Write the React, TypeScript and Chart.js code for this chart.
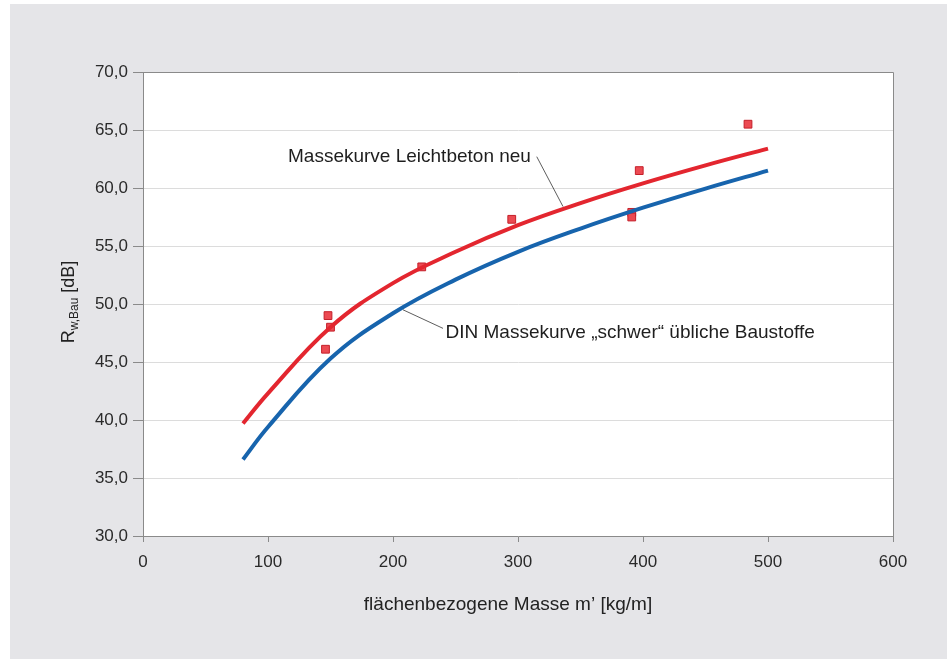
import React, { useEffect, useRef } from "react";
import { Chart, registerables } from "chart.js";

Chart.register(...registerables);

// Curve support points
const curveMass = [80, 100, 150, 200, 250, 300, 350, 400, 450, 500];
const leichtbetonCurve = [39.7, 42.3, 48.0, 51.8, 54.5, 56.8, 58.7, 60.4, 61.95, 63.4];
const dinCurve = [36.6, 39.4, 45.3, 49.2, 52.1, 54.5, 56.5, 58.3, 59.95, 61.5];

// Measured values (red squares)
const measuredMass = [148, 150, 146, 223, 295, 391, 391, 397, 484];
const measuredR = [49.0, 48.0, 46.1, 53.2, 57.3, 57.9, 57.5, 61.5, 65.5];

const xTitle = "flächenbezogene Masse m’ [kg/m]";
const labelLeicht = "Massekurve Leichtbeton neu";
const labelDin = "DIN Massekurve „schwer“ übliche Baustoffe";

const FONT = "'Liberation Sans', Arial, sans-serif";
const RED = "#e3262f";
const BLUE = "#1764ad";

const toPts = (xs: number[], ys: number[]) => xs.map((x, i) => ({ x, y: ys[i] }));

const decorPlugin = {
  id: "decor",
  beforeDraw(chart: any) {
    const { ctx, chartArea: a, width, height } = chart;
    ctx.save();
    ctx.fillStyle = "#ffffff";
    ctx.fillRect(0, 0, width, height);
    ctx.fillStyle = "#e5e5e8";
    ctx.fillRect(10, 4, width - 12, height - 4);
    ctx.fillStyle = "#ffffff";
    ctx.fillRect(a.left, a.top, a.right - a.left, a.bottom - a.top);
    ctx.restore();
  },
  afterDraw(chart: any) {
    const { ctx, chartArea: a, scales } = chart;
    const xs = scales.x;
    const ys = scales.y;
    ctx.save();
    // top and right border
    ctx.strokeStyle = "#8a8a8a";
    ctx.lineWidth = 1;
    ctx.beginPath();
    ctx.moveTo(a.left, a.top + 0.5);
    ctx.lineTo(a.right + 0.5, a.top + 0.5);
    ctx.lineTo(a.right + 0.5, a.bottom);
    ctx.stroke();

    // x title
    ctx.fillStyle = "#222";
    ctx.font = `19px ${FONT}`;
    ctx.textAlign = "center";
    ctx.textBaseline = "middle";
    ctx.fillText(xTitle, 508, 605);

    // y title with subscript, rotated
    ctx.save();
    ctx.translate(74, 302);
    ctx.rotate(-Math.PI / 2);
    const big = `18px ${FONT}`;
    const small = `12px ${FONT}`;
    ctx.textAlign = "left";
    ctx.textBaseline = "alphabetic";
    ctx.font = big;
    const wR = ctx.measureText("R").width;
    const wEnd = ctx.measureText(" [dB]").width;
    ctx.font = small;
    const wSub = ctx.measureText("w,Bau").width;
    const total = wR + wSub + wEnd;
    let px = -total / 2;
    ctx.font = big;
    ctx.fillText("R", px, 0);
    px += wR;
    ctx.font = small;
    ctx.fillText("w,Bau", px, 4);
    px += wSub;
    ctx.font = big;
    ctx.fillText(" [dB]", px, 0);
    ctx.restore();

    // annotations
    ctx.font = `19px ${FONT}`;
    ctx.fillStyle = "#1e1e1e";
    ctx.textAlign = "left";
    ctx.textBaseline = "middle";
    ctx.fillText(labelLeicht, xs.getPixelForValue(116), ys.getPixelForValue(62.7));
    ctx.fillText(labelDin, xs.getPixelForValue(242), ys.getPixelForValue(47.5));

    ctx.strokeStyle = "#333";
    ctx.lineWidth = 0.8;
    ctx.beginPath();
    ctx.moveTo(xs.getPixelForValue(315), ys.getPixelForValue(62.7));
    ctx.lineTo(xs.getPixelForValue(336), ys.getPixelForValue(58.4));
    ctx.moveTo(xs.getPixelForValue(240), ys.getPixelForValue(47.9));
    ctx.lineTo(xs.getPixelForValue(208), ys.getPixelForValue(49.5));
    ctx.stroke();
    ctx.restore();
  },
};

export default function App() {
  const ref = useRef<HTMLCanvasElement | null>(null);
  useEffect(() => {
    if (!ref.current) return;
    const chart = new Chart(ref.current, {
      type: "scatter",
      data: {
        datasets: [
          {
            type: "line",
            label: "Massekurve Leichtbeton neu",
            data: toPts(curveMass, leichtbetonCurve),
            borderColor: RED,
            borderWidth: 4,
            pointRadius: 0,
            tension: 0.4,
            fill: false,
            borderCapStyle: "butt",
          },
          {
            type: "line",
            label: "DIN Massekurve",
            data: toPts(curveMass, dinCurve),
            borderColor: BLUE,
            borderWidth: 4,
            pointRadius: 0,
            tension: 0.4,
            fill: false,
            borderCapStyle: "butt",
          },
          {
            type: "scatter",
            label: "Messwerte",
            data: toPts(measuredMass, measuredR),
            pointStyle: "rect",
            pointRadius: 5.5,
            backgroundColor: "#ec4a52",
            borderColor: "#c41f29",
            borderWidth: 1,
          },
        ],
      } as any,
      options: {
        animation: false,
        responsive: true,
        maintainAspectRatio: false,
        layout: { padding: { top: 72, right: 56, left: 0, bottom: 0 } },
        plugins: { legend: { display: false }, tooltip: { enabled: false } },
        scales: {
          x: {
            type: "linear",
            min: 0,
            max: 600,
            ticks: {
              stepSize: 100,
              color: "#2a2a2a",
              font: { family: FONT, size: 17 },
              padding: 10,
            },
            grid: {
              drawOnChartArea: false,
              drawTicks: true,
              tickLength: 6,
              tickColor: "#8a8a8a",
            },
            border: { color: "#8a8a8a", width: 1 },
            afterFit: (s: any) => {
              s.height = 123;
            },
          },
          y: {
            min: 30,
            max: 70,
            ticks: {
              stepSize: 5,
              color: "#2a2a2a",
              font: { family: FONT, size: 17 },
              padding: 5,
              callback: (v: any) => Number(v).toFixed(1).replace(".", ","),
            },
            grid: {
              color: "#dcdcdc",
              tickColor: "#8a8a8a",
              tickLength: 10,
            },
            border: { color: "#8a8a8a", width: 1 },
            afterFit: (s: any) => {
              s.width = 143;
            },
          },
        },
      } as any,
      plugins: [decorPlugin],
    });
    return () => chart.destroy();
  }, []);
  return (
    <div style={{ position: "fixed", left: 0, top: 0, width: 949, height: 659 }}>
      <canvas ref={ref} />
    </div>
  );
}
